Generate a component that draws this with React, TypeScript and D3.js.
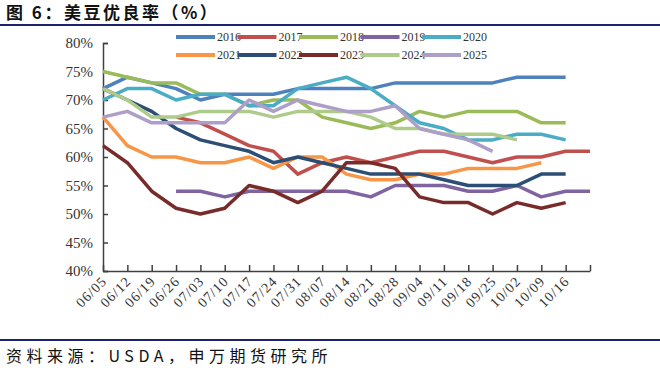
import React, { useRef, useEffect } from 'react';
import * as d3 from 'd3';

// week labels (last slot has no label)
const weeks = ['06/05', '06/12', '06/19', '06/26', '07/03', '07/10', '07/17', '07/24', '07/31', '08/07',
  '08/14', '08/21', '08/28', '09/04', '09/11', '09/18', '09/25', '10/02', '10/09', '10/16', ''];
const yTicks = [40, 45, 50, 55, 60, 65, 70, 75, 80];

const y2016 = [72, 74, 73, 72, 70, 71, 71, 71, 72, 72, 72, 72, 73, 73, 73, 73, 73, 74, 74, 74];
const y2017 = [null, null, null, 67, 66, 64, 62, 61, 57, 59, 60, 59, 60, 61, 61, 60, 59, 60, 60, 61, 61];
const y2018 = [75, 74, 73, 73, 71, 71, 69, 70, 70, 67, 66, 65, 66, 68, 67, 68, 68, 68, 66, 66];
const y2019 = [null, null, null, 54, 54, 53, 54, 54, 54, 54, 54, 53, 55, 55, 55, 54, 54, 55, 53, 54, 54];
const y2020 = [70, 72, 72, 70, 71, 71, 69, 69, 72, 73, 74, 72, 69, 66, 65, 63, 63, 64, 64, 63];
const y2021 = [67, 62, 60, 60, 59, 59, 60, 58, 60, 60, 57, 56, 56, 57, 57, 58, 58, 58, 59];
const y2022 = [72, 70, 68, 65, 63, 62, 61, 59, 60, 59, 58, 57, 57, 57, 56, 55, 55, 55, 57, 57];
const y2023 = [62, 59, 54, 51, 50, 51, 55, 54, 52, 54, 59, 59, 58, 53, 52, 52, 50, 52, 51, 52];
const y2024 = [72, 70, 67, 67, 68, 68, 68, 67, 68, 68, 68, 67, 65, 65, 64, 64, 64, 63];
const y2025 = [67, 68, 66, 66, 66, 66, 70, 68, 70, 69, 68, 68, 69, 65, 64, 63, 61];

const series = [
  { name: '2016', color: '#4f81bd', values: y2016 },
  { name: '2017', color: '#c0504d', values: y2017 },
  { name: '2018', color: '#9bbb59', values: y2018 },
  { name: '2019', color: '#8064a2', values: y2019 },
  { name: '2020', color: '#4bacc6', values: y2020 },
  { name: '2021', color: '#f79646', values: y2021 },
  { name: '2022', color: '#2c4d75', values: y2022 },
  { name: '2023', color: '#772c2a', values: y2023 },
  { name: '2024', color: '#afcb8c', values: y2024 },
  { name: '2025', color: '#ad9fc8', values: y2025 },
];

const W = 660;
const H = 368;

const App = () => {
  const ref = useRef<SVGSVGElement>(null);

  useEffect(() => {
    const svg = d3.select(ref.current);
    svg.selectAll('*').remove();

    const plot = { left: 103, right: 590, top: 43, bottom: 271 };
    const axisColor = '#404040';
    const labelFont = '"Liberation Serif", serif';

    const x = d3.scalePoint<number>()
      .domain(d3.range(weeks.length))
      .range([plot.left, plot.right]);

    const y = d3.scaleLinear()
      .domain([40, 80])
      .range([plot.bottom, plot.top]);

    // title + rules
    svg.append('text')
      .attr('x', 6).attr('y', 19)
      .attr('font-family', '"Noto Sans CJK SC", sans-serif')
      .attr('font-weight', 'bold')
      .attr('font-size', 17)
      .attr('letter-spacing', 2.5)
      .attr('fill', '#111')
      .text('图 6：美豆优良率（%）');

    svg.append('line')
      .attr('x1', 0).attr('x2', W).attr('y1', 25).attr('y2', 25)
      .attr('stroke', '#1c2270').attr('stroke-width', 2);

    svg.append('line')
      .attr('x1', 0).attr('x2', W).attr('y1', 340).attr('y2', 340)
      .attr('stroke', '#1c2270').attr('stroke-width', 2);

    svg.append('text')
      .attr('x', 6).attr('y', 362)
      .attr('font-family', '"Noto Sans CJK SC", sans-serif')
      .attr('font-size', 16)
      .attr('letter-spacing', 4.5)
      .attr('fill', '#111')
      .text('资料来源：USDA，申万期货研究所');

    // y axis
    const yAxis = d3.axisLeft(y)
      .tickValues(yTicks)
      .tickSize(-5)
      .tickPadding(10)
      .tickFormat(d => `${d}%`);

    svg.append('g')
      .attr('transform', `translate(${plot.left},0)`)
      .call(yAxis)
      .call(g => g.select('.domain').attr('stroke', axisColor).attr('stroke-width', 1.5))
      .call(g => g.selectAll('line').attr('stroke', axisColor).attr('stroke-width', 1.5))
      .call(g => g.selectAll('text')
        .attr('font-family', labelFont)
        .attr('font-size', 15)
        .attr('fill', '#333'));

    // x axis
    const xAxis = d3.axisBottom(x)
      .tickSize(-6)
      .tickSizeOuter(0)
      .tickFormat(i => weeks[i]);

    svg.append('g')
      .attr('transform', `translate(0,${plot.bottom})`)
      .call(xAxis)
      .call(g => g.select('.domain').attr('stroke', axisColor).attr('stroke-width', 1.5))
      .call(g => g.selectAll('line').attr('stroke', axisColor).attr('stroke-width', 1.5))
      .call(g => g.selectAll('text')
        .attr('font-family', labelFont)
        .attr('font-size', 14)
        .attr('letter-spacing', 1)
        .attr('fill', '#333')
        .attr('text-anchor', 'end')
        .attr('dy', 0)
        .attr('transform', 'translate(2,9) rotate(-45)'));

    // lines
    const line = d3.line<number | null>()
      .defined(d => d != null)
      .x((d, i) => x(i) as number)
      .y(d => y(d as number));

    series.forEach(s => {
      svg.append('path')
        .datum(s.values)
        .attr('fill', 'none')
        .attr('stroke', s.color)
        .attr('stroke-width', 3.5)
        .attr('stroke-linejoin', 'round')
        .attr('d', line);
    });

    // legend: two rows of five
    const legend = svg.append('g');
    series.forEach((s, i) => {
      const lx = 176 + (i % 5) * 61.5;
      const ly = i < 5 ? 37 : 55;
      legend.append('line')
        .attr('x1', lx).attr('x2', lx + 39)
        .attr('y1', ly).attr('y2', ly)
        .attr('stroke', s.color)
        .attr('stroke-width', 4);
      legend.append('text')
        .attr('x', lx + 41).attr('y', ly + 4)
        .attr('font-family', labelFont)
        .attr('font-size', 12)
        .attr('fill', '#333')
        .text(s.name);
    });
  }, []);

  return (
    <svg ref={ref} width={W} height={H} style={{ display: 'block', position: 'absolute', left: 0, top: 0, background: '#fff' }}></svg>
  );
};

export default App;
